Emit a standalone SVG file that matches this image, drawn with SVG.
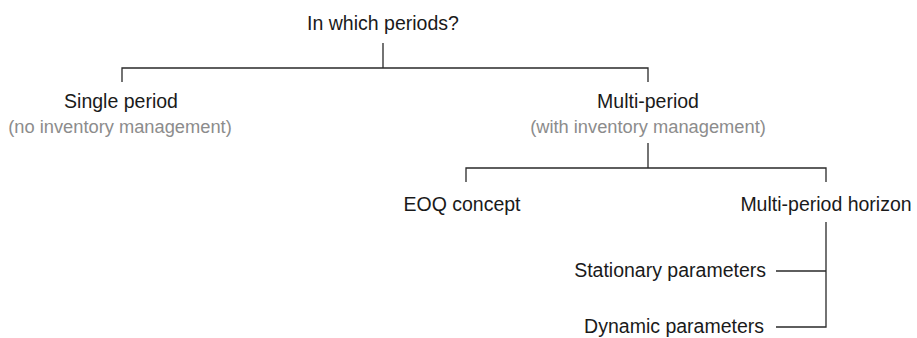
<svg xmlns="http://www.w3.org/2000/svg" width="917" height="338" viewBox="0 0 917 338">
  <style>
    .lbl { font-family: "Liberation Sans", Arial, sans-serif; font-size: 19.5px; fill: #1a1a1a; }
    .sub { font-family: "Liberation Sans", Arial, sans-serif; font-size: 18.3px; fill: #8c8c8c; }
    .mid { text-anchor: middle; }
    .end { text-anchor: end; }
    .edge { fill: none; stroke: #2a2a2a; stroke-width: 1.3; }
  </style>
  <rect width="917" height="338" fill="#ffffff"/>

  <g id="connectors">
    <path class="edge" d="M383,43 V68 M122,82 V68 H648 V82"/>
    <path class="edge" d="M648,143 V168 M466,182 V168 H826 V182"/>
    <path class="edge" d="M826,222 V327 H776 M826,271 H776"/>
  </g>

  <g id="root">
    <text class="lbl mid" x="383" y="30">In which periods?</text>
  </g>
  <g id="single-period">
    <text class="lbl mid" x="121" y="108">Single period</text>
    <text class="sub mid" x="120" y="133">(no inventory management)</text>
  </g>
  <g id="multi-period">
    <text class="lbl mid" x="648" y="108">Multi-period</text>
    <text class="sub mid" x="648" y="133">(with inventory management)</text>
  </g>
  <g id="eoq-concept">
    <text class="lbl mid" x="462" y="211">EOQ concept</text>
  </g>
  <g id="multi-period-horizon">
    <text class="lbl mid" x="826" y="211">Multi-period horizon</text>
  </g>
  <g id="stationary-parameters">
    <text class="lbl end" x="766" y="277">Stationary parameters</text>
  </g>
  <g id="dynamic-parameters">
    <text class="lbl end" x="764" y="333">Dynamic parameters</text>
  </g>
</svg>
